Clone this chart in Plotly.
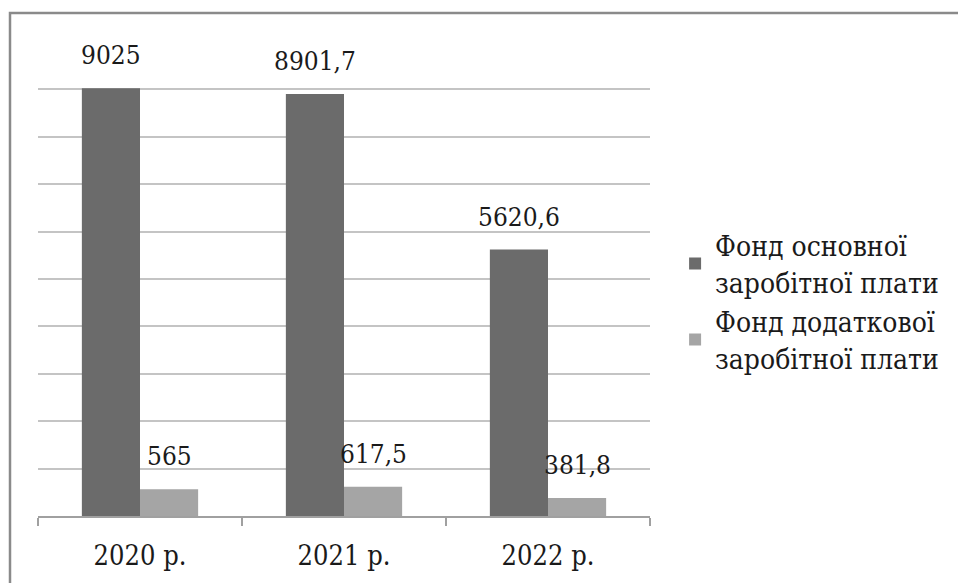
import plotly.graph_objects as go

years = ["2020 р.", "2021 р.", "2022 р."]
base_fund = [9025, 8901.7, 5620.6]
extra_fund = [565, 617.5, 381.8]
series_names = ["Фонд основної<br>заробітної плати", "Фонд додаткової<br>заробітної плати"]

FONT = "DejaVu Serif Condensed"
DARK = "#6b6b6b"
LIGHT = "#a5a5a5"
TEXT = "#1a1a1a"


def fmt(v):
    s = f"{v:g}"
    return s.replace(".", ",")


fig = go.Figure()
fig.add_trace(go.Bar(x=years, y=base_fund, name=series_names[0],
                     marker=dict(color=DARK, line=dict(width=0))))
fig.add_trace(go.Bar(x=years, y=extra_fund, name=series_names[1],
                     marker=dict(color=LIGHT, line=dict(width=0))))

# value labels above each bar, shifted sideways to the bar of its series
annotations = []
for vals, dx in ((base_fund, -29), (extra_fund, 29)):
    for cat, v in zip(years, vals):
        annotations.append(dict(x=cat, y=v, xref="x", yref="y", text=fmt(v),
                                showarrow=False, xshift=dx, yshift=16,
                                yanchor="bottom",
                                font=dict(family=FONT, size=26, color=TEXT)))

fig.update_layout(
    width=958, height=583,
    margin=dict(l=38, r=308, t=42, b=67, autoexpand=False),
    paper_bgcolor="white", plot_bgcolor="white",
    barmode="group", bargap=0.43, bargroupgap=0,
    font=dict(family=FONT, size=24, color=TEXT),
    showlegend=True,
    legend=dict(x=1.041, xanchor="left", y=0.623, yanchor="top",
                font=dict(family=FONT, size=28, color=TEXT),
                tracegroupgap=4,
                bgcolor="rgba(0,0,0,0)"),
    annotations=annotations,
    shapes=[
        # outer chart frame (top and left edges fall inside the page)
        dict(type="rect", xref="paper", yref="paper",
             x0=-28 / 612, x1=1.6, y0=-0.3, y1=1 + 29 / 474,
             line=dict(color="#8a8a8a", width=2.5), layer="below"),
    ],
)
fig.update_xaxes(showline=True, linecolor="#a0a0a0", linewidth=2,
                 ticks="outside", ticklen=8, tickcolor="#a0a0a0", tickwidth=2,
                 tickson="boundaries", ticklabelstandoff=15,
                 tickfont=dict(family=FONT, size=27, color=TEXT),
                 showgrid=False)
fig.update_yaxes(range=[0, 10000], dtick=1000, showgrid=True,
                 gridcolor="#c4c4c4", gridwidth=2, showticklabels=False,
                 zeroline=False, showline=False)

fig.write_html("out.html")
